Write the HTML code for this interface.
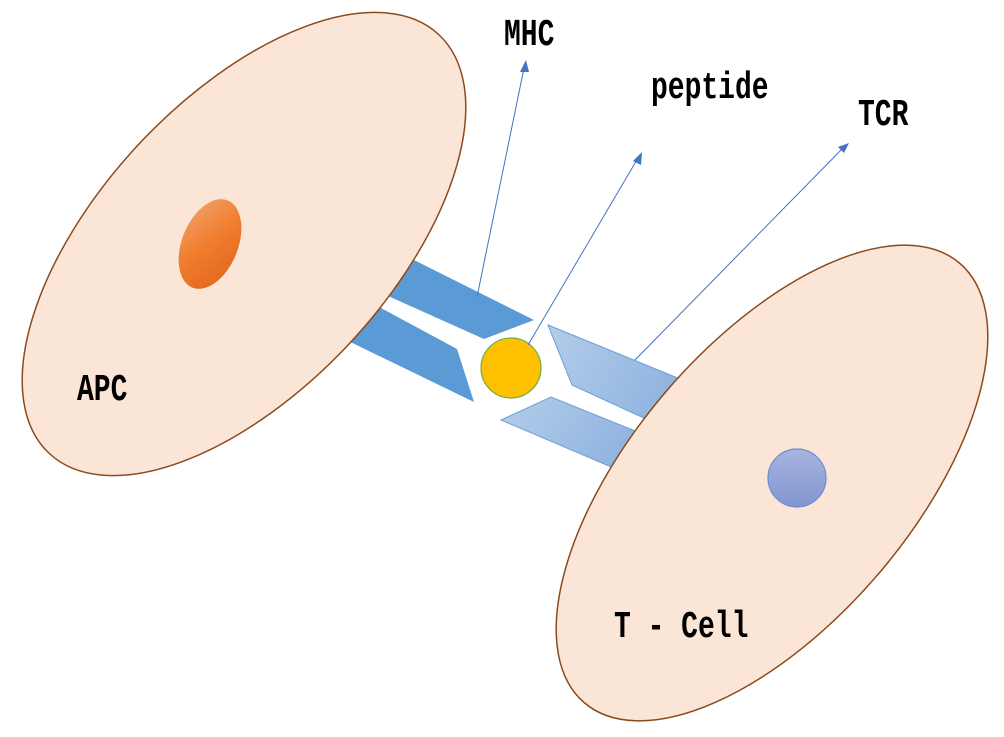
<!DOCTYPE html>
<html><head><meta charset="utf-8"><style>html,body{margin:0;padding:0;background:#fff;width:1004px;height:737px;overflow:hidden}svg{display:block}</style></head>
<body>
<svg width="1004" height="737" viewBox="0 0 1004 737" xmlns="http://www.w3.org/2000/svg">
<defs>
<linearGradient id="tcr" x1="0" y1="0" x2="1" y2="0.4">
<stop offset="0" stop-color="#b4cde9"/><stop offset="1" stop-color="#8fb3e0"/></linearGradient>
<linearGradient id="org" x1="0" y1="0" x2="1" y2="1">
<stop offset="0" stop-color="#f4a370"/><stop offset="0.5" stop-color="#f07c2c"/><stop offset="1" stop-color="#e0631a"/></linearGradient>
<linearGradient id="blu" x1="0" y1="0" x2="0" y2="1">
<stop offset="0" stop-color="#a7b4de"/><stop offset="1" stop-color="#8196d2"/></linearGradient>
</defs>
<polygon points="390,248 534,320 484,339 370,288" fill="#5b9bd5"/>
<polygon points="370,302 457,349 474,402 340,337" fill="#5b9bd5"/>
<polygon points="548,325 690,383 670,430 572,385" fill="url(#tcr)" stroke="#6a9fd8" stroke-width="1"/>
<polygon points="501,420 551,397 650,437 630,475" fill="url(#tcr)" stroke="#6a9fd8" stroke-width="1"/>
<ellipse cx="244" cy="244" rx="286" ry="145" transform="rotate(-47.1 244 244)" fill="#fbe5d6" stroke="#8b4a1c" stroke-width="1.5"/>
<ellipse cx="210" cy="244" rx="28" ry="47" transform="rotate(22 210 244)" fill="url(#org)"/>
<ellipse cx="772" cy="483" rx="289" ry="140" transform="rotate(-49.5 772 483)" fill="#fbe5d6" stroke="#8b4a1c" stroke-width="1.5"/>
<circle cx="797" cy="478" r="29" fill="url(#blu)" stroke="#6f8bd0" stroke-width="1.2"/>
<circle cx="511" cy="368" r="30" fill="#ffc000" stroke="#70ad47" stroke-width="1.2"/>
<g stroke="#4472c4" stroke-width="1" fill="#4472c4">
<line x1="477" y1="297" x2="524" y2="68"/>
<polygon points="526,60 520,72 529,72" stroke="none"/>
<line x1="528" y1="345" x2="638" y2="158"/>
<polygon points="642,152 633,161 641,165" stroke="none"/>
<line x1="635" y1="360" x2="843" y2="148"/>
<polygon points="849,143 838,147 844,153" stroke="none"/>
</g>
<g font-family="Liberation Mono, monospace" font-weight="bold" font-size="28" fill="#000">
<text transform="translate(504,45) scale(1,1.35)">MHC</text>
<text transform="translate(651,98) scale(1,1.35)">peptide</text>
<text transform="translate(858,125) scale(1,1.35)">TCR</text>
<text transform="translate(77,400) scale(1,1.35)">APC</text>
<text transform="translate(614,637) scale(1,1.35)">T - Cell</text>
</g>
</svg>
</body></html>
